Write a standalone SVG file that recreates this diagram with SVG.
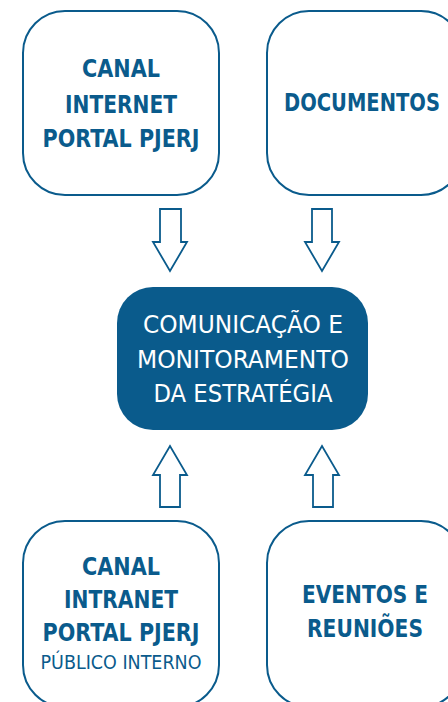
<svg xmlns="http://www.w3.org/2000/svg" width="448" height="702" viewBox="0 0 448 702">
<style>
.box{fill:#fff;stroke:#0a5b8c;stroke-width:2}
.core{fill:#0a5b8c}
.arr{fill:#fff;stroke:#0a5b8c;stroke-width:1.8;stroke-linejoin:miter}
text{font-family:"Liberation Sans Narrow","DejaVu Sans Condensed","Liberation Sans",sans-serif;text-anchor:middle}
.t{fill:#0a5b8c;font-size:25px;font-weight:bold}
.s{fill:#0a5b8c;font-size:20px}
.w{fill:#fff;font-size:25px}
</style>
<rect width="448" height="702" fill="#fff"/>
<g id="canal-internet">
<rect class="box" x="23" y="11" width="196" height="184" rx="42"/>
<text class="t" x="121" y="77" textLength="78" lengthAdjust="spacingAndGlyphs">CANAL</text>
<text class="t" x="121" y="113" textLength="112" lengthAdjust="spacingAndGlyphs">INTERNET</text>
<text class="t" x="121" y="147" textLength="157" lengthAdjust="spacingAndGlyphs">PORTAL PJERJ</text>
</g>
<g id="documentos">
<rect class="box" x="267" y="11" width="196" height="184" rx="42"/>
<text class="t" x="362" y="111" textLength="156" lengthAdjust="spacingAndGlyphs">DOCUMENTOS</text>
</g>
<g id="comunicacao">
<rect class="core" x="117" y="287" width="251" height="143" rx="36"/>
<text class="w" x="243" y="333" textLength="200" lengthAdjust="spacingAndGlyphs">COMUNICAÇÃO E</text>
<text class="w" x="243" y="368" textLength="212" lengthAdjust="spacingAndGlyphs">MONITORAMENTO</text>
<text class="w" x="243" y="402" textLength="179" lengthAdjust="spacingAndGlyphs">DA ESTRATÉGIA</text>
</g>
<g id="canal-intranet">
<rect class="box" x="23" y="521" width="196" height="186" rx="42"/>
<text class="t" x="121" y="575" textLength="78" lengthAdjust="spacingAndGlyphs">CANAL</text>
<text class="t" x="121" y="608" textLength="114" lengthAdjust="spacingAndGlyphs">INTRANET</text>
<text class="t" x="121" y="641" textLength="157" lengthAdjust="spacingAndGlyphs">PORTAL PJERJ</text>
<text class="s" x="121" y="669" textLength="161" lengthAdjust="spacingAndGlyphs">PÚBLICO INTERNO</text>
</g>
<g id="eventos">
<rect class="box" x="267" y="521" width="196" height="186" rx="42"/>
<text class="t" x="365" y="603" textLength="126" lengthAdjust="spacingAndGlyphs">EVENTOS E</text>
<text class="t" x="365" y="637" textLength="116" lengthAdjust="spacingAndGlyphs">REUNIÕES</text>
</g>
<g id="connectors">
<polygon class="arr" points="160,209 181,209 181,242 187,242 170,271 153,242 160,242"/>
<polygon class="arr" points="312,209 332,209 332,242 339,242 322,271 305,242 312,242"/>
<polygon class="arr" points="160,507 180,507 180,475 187,475 170,446 153,475 160,475"/>
<polygon class="arr" points="313,507 333,507 333,475 339,475 322,446 305,475 313,475"/>
</g>
</svg>
